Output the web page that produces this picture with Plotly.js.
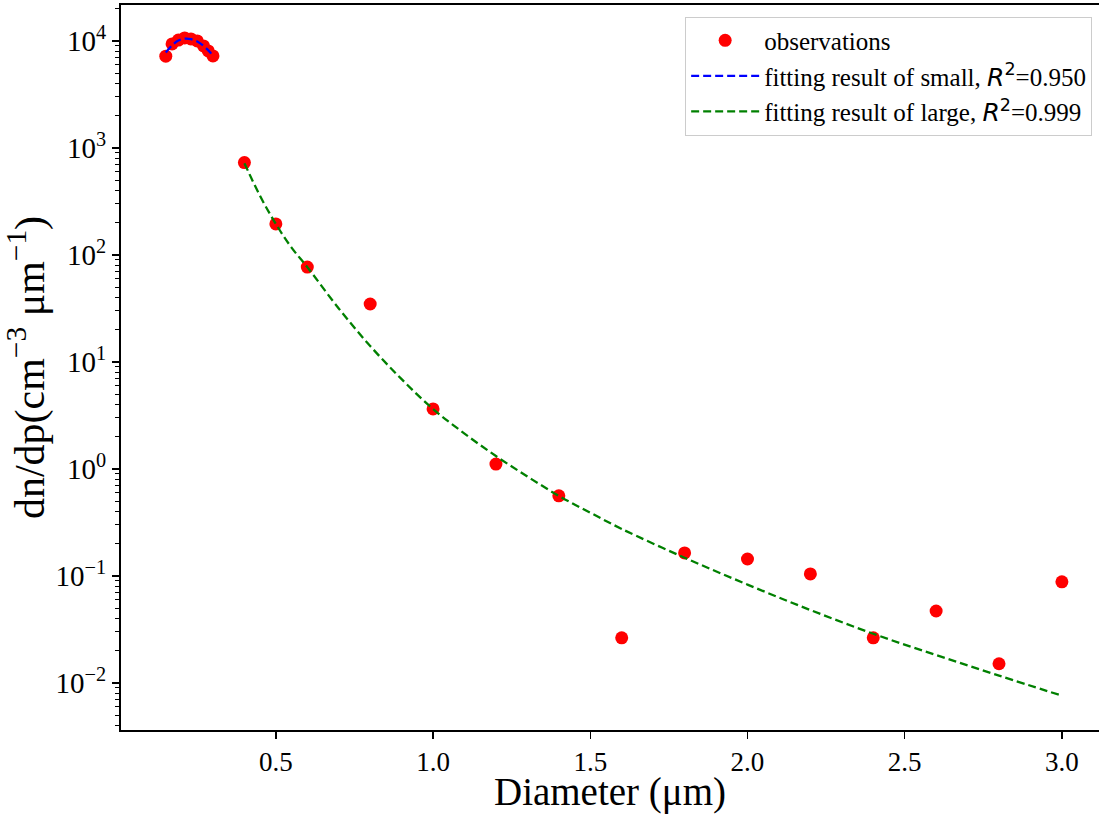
<!DOCTYPE html>
<html>
<head>
<meta charset="utf-8">
<script src="https://cdn.plot.ly/plotly-3.0.1.min.js"></script>
<style>html,body{margin:0;padding:0;background:#fff;}#chart{width:1099px;height:814px;}</style>
</head>
<body>
<div id="chart"></div>
<script>
// Observations (diameter in µm, dn/dp in cm^-3 µm^-1)
const obsSmallD = [0.15, 0.17, 0.19, 0.21, 0.23, 0.25, 0.27, 0.285, 0.30];
const obsSmallN = [7200, 9370, 10200, 10670, 10440, 10000, 8980, 8070, 7240];
const obsLargeD = [0.4, 0.5, 0.6, 0.8, 1.0, 1.2, 1.4, 1.6, 1.8, 2.0, 2.2, 2.4, 2.6, 2.8, 3.0];
const obsLargeN = [730, 195, 77, 34.8, 3.64, 1.11, 0.56, 0.0264, 0.164, 0.144, 0.1045, 0.0264, 0.047, 0.0151, 0.088];

// Fitted curve of the small mode
const fitSmallD = [0.15, 0.17, 0.19, 0.21, 0.23, 0.25, 0.27, 0.29, 0.30];
const fitSmallN = [7800, 9100, 10100, 10500, 10400, 9900, 9000, 7900, 7200];

// Fitted curve of the large mode
const fitLargeD = [0.4, 0.45, 0.5, 0.55, 0.6, 0.7, 0.8, 0.9, 1.0, 1.1, 1.2, 1.3, 1.4, 1.5, 1.6, 1.8, 2.0, 2.2, 2.4, 2.6, 2.8, 3.0];
const fitLargeN = [720, 355, 195, 117, 77, 31.6, 14.1, 6.9, 3.63, 2.14, 1.32, 0.85, 0.56, 0.39, 0.275, 0.148, 0.083, 0.048, 0.0288, 0.0182, 0.0117, 0.0076];

// Tick labels
const xTickVals = [0.5, 1.0, 1.5, 2.0, 2.5, 3.0];
const xTickText = ['0.5', '1.0', '1.5', '2.0', '2.5', '3.0'];
const yTickVals = [0.01, 0.1, 1, 10, 100, 1000, 10000];
const yTickText = ['10<sup>−2</sup>', '10<sup>−1</sup>', '10<sup>0</sup>', '10<sup>1</sup>', '10<sup>2</sup>', '10<sup>3</sup>', '10<sup>4</sup>'];

const R2 = "<span style='font-family:DejaVu Sans;font-style:italic'>R</span><sup><span style='font-family:DejaVu Sans'>2</span></sup>";

const traces = [
  {
    x: obsSmallD.concat(obsLargeD),
    y: obsSmallN.concat(obsLargeN),
    mode: 'markers', type: 'scatter', name: 'observations',
    marker: {color: '#ff0000', size: 13}
  },
  {
    x: fitSmallD, y: fitSmallN, mode: 'lines', type: 'scatter',
    name: 'fitting result of small, ' + R2 + '=0.950',
    line: {color: '#0000ff', width: 2.3, dash: '8px,4px', shape: 'spline'}
  },
  {
    x: fitLargeD, y: fitLargeN, mode: 'lines', type: 'scatter',
    name: 'fitting result of large, ' + R2 + '=0.999',
    line: {color: '#008000', width: 2.3, dash: '8px,4px', shape: 'spline'}
  }
];

const layout = {
  width: 1099, height: 814,
  margin: {l: 121, r: 0, t: 5, b: 84},
  paper_bgcolor: '#ffffff', plot_bgcolor: '#ffffff',
  font: {family: 'Liberation Serif', color: '#000000', size: 24},
  showlegend: true,
  legend: {
    x: 0.993, xanchor: 'right', y: 0.984, yanchor: 'top',
    bgcolor: 'rgba(255,255,255,0.8)', bordercolor: '#cccccc', borderwidth: 1,
    font: {family: 'Liberation Serif', size: 25, color: '#000000'},
    itemwidth: 68
  },
  xaxis: {
    range: [0.0075, 3.118],
    tickmode: 'array', tickvals: xTickVals, ticktext: xTickText,
    ticks: 'outside', ticklen: 7, tickwidth: 1.5, tickcolor: '#000',
    showgrid: false, zeroline: false,
    showline: true, linecolor: '#000', linewidth: 2, mirror: true,
    tickfont: {family: 'Liberation Serif', size: 27},
    title: {text: 'Diameter (μm)', font: {family: 'Liberation Serif', size: 39}, standoff: 6}
  },
  yaxis: {
    type: 'log', range: [-2.44, 4.336],
    tickmode: 'array', tickvals: yTickVals, ticktext: yTickText,
    ticks: 'outside', ticklen: 7, tickwidth: 1.5, tickcolor: '#000',
    minor: {tickmode: 'linear', dtick: 'D1', ticks: 'outside', ticklen: 4, tickwidth: 1, tickcolor: '#000', showgrid: false},
    showgrid: false, zeroline: false,
    showline: true, linecolor: '#000', linewidth: 2, mirror: false,
    tickfont: {family: 'Liberation Serif', size: 29},
    title: {text: 'dn/dp(cm<sup>−3</sup> μm<sup>−1</sup>)\u2002\u2009', font: {family: 'Liberation Serif', size: 42}, standoff: 2}
  }
};

Plotly.newPlot('chart', traces, layout, {displayModeBar: false, staticPlot: true});
</script>
</body>
</html>
